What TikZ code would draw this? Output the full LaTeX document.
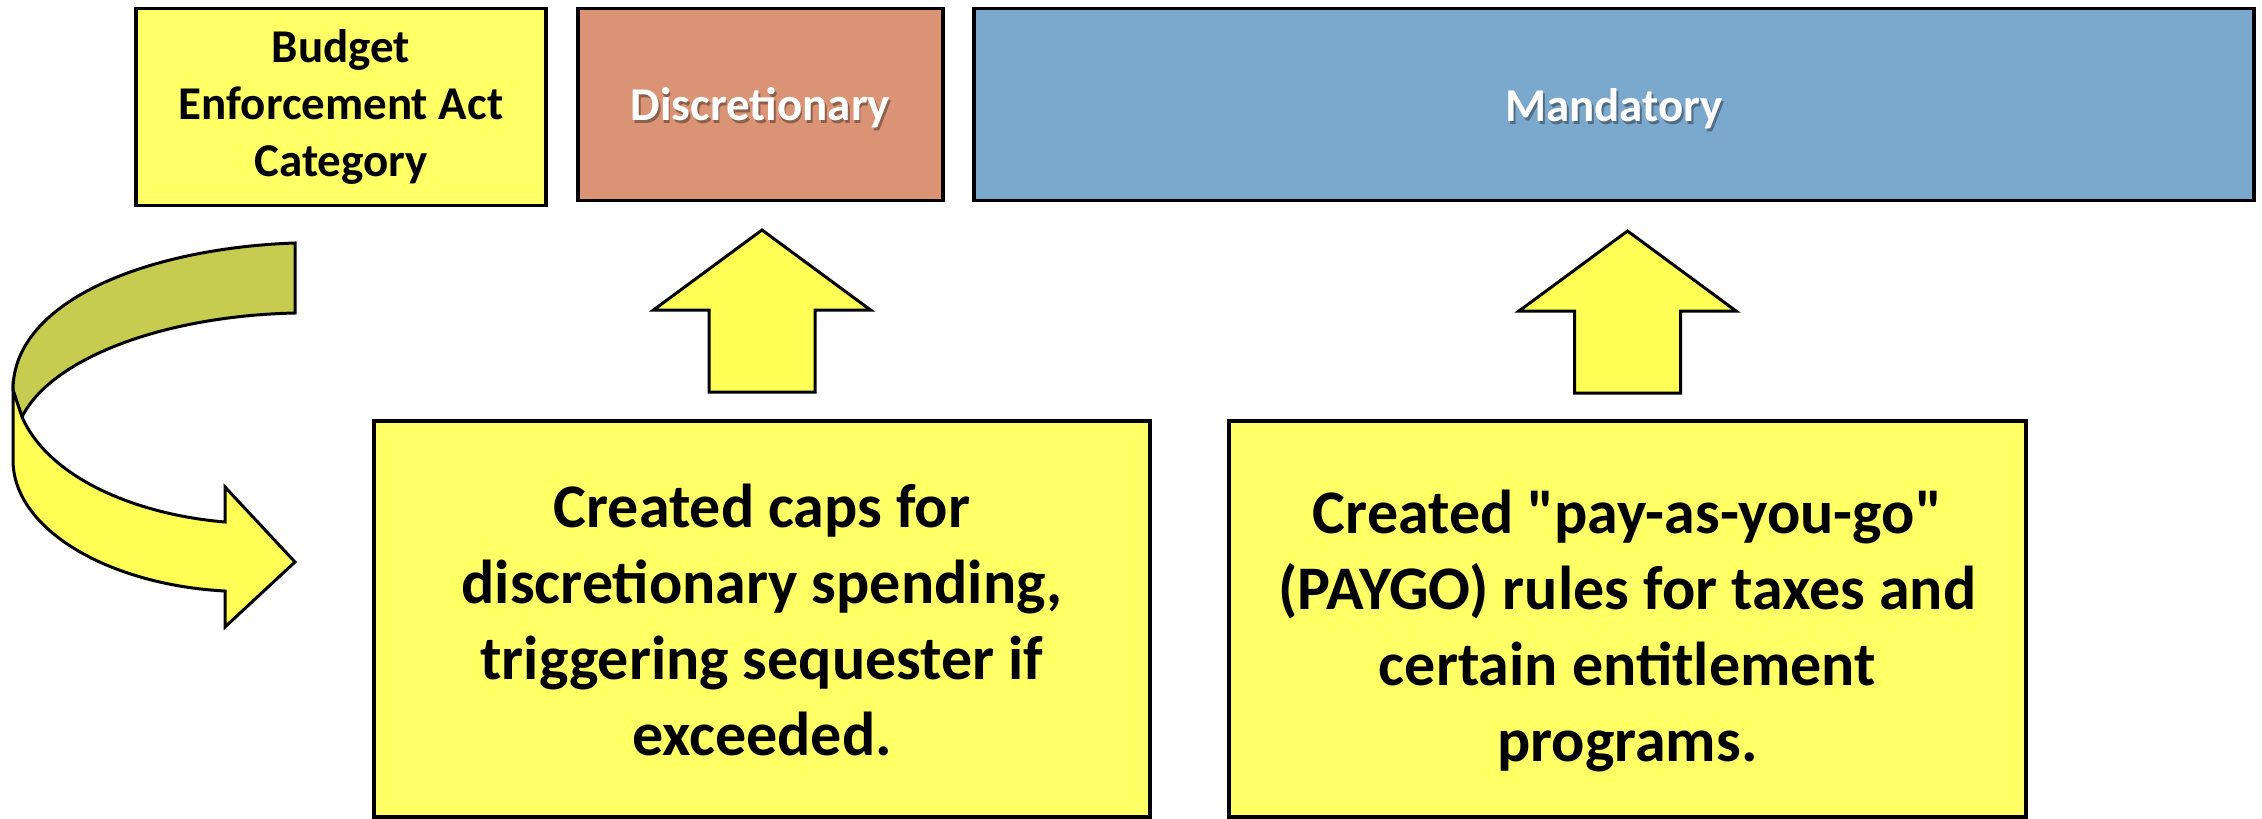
\documentclass[tikz,border=0pt]{standalone}
\usepackage{fontspec}
\setmainfont{Carlito}
\definecolor{yelbox}{RGB}{255,255,102}
\definecolor{arrowyellow}{RGB}{255,255,85}
\definecolor{backband}{RGB}{198,204,80}
\definecolor{discol}{RGB}{218,148,117}
\definecolor{mancol}{RGB}{123,168,205}
\begin{document}
\begin{tikzpicture}[x=1pt,y=-1pt,
  box/.style={draw=black, line width=3.5pt, inner sep=0pt, anchor=center},
  lbl/.style={font=\bfseries\fontsize{47}{57}\selectfont, align=center, inner sep=0pt},
  big/.style={font=\bfseries\fontsize{62}{76}\selectfont, align=center, inner sep=0pt},
  wlbl/.style={font=\bfseries\fontsize{47}{57}\selectfont, text=white, inner sep=0pt, anchor=base},
  shd/.style={font=\bfseries\fontsize{47}{57}\selectfont, text=black, opacity=0.35, inner sep=0pt, anchor=base},
  blk/.style={draw=black, line width=3pt, line join=miter, fill=arrowyellow},
  pics/uparrow/.style={code={\draw[blk] (-53,0) -- (-53,-82) -- (-108.5,-82) -- (0,-162) -- (108.5,-82) -- (53,-82) -- (53,0) -- cycle;}}
]
\useasboundingbox (0,0) rectangle (2262,819);

% top row
\node[box, fill=yelbox, minimum width=410pt, minimum height=197pt, lbl] (bea) at (341,107) {Budget\\Enforcement Act\\Category};
\node[box, fill=discol, minimum width=365pt, minimum height=192pt] (disc) at (760.5,104.5) {};
\node[box, fill=mancol, minimum width=1280pt, minimum height=192pt] (mand) at (1614,104.5) {};
\node[shd] (discs) at (762,123) {Discretionary};
\node[wlbl] (disct) at (760.5,120) {Discretionary};
\node[shd] (mands) at (1616,124) {Mandatory};
\node[wlbl] (mandt) at (1614,121) {Mandatory};

% lower boxes
\node[box, fill=yelbox, minimum width=776pt, minimum height=396pt] (lowl) at (762,619) {};
\node[box, fill=yelbox, minimum width=797pt, minimum height=396pt] (lowr) at (1627.5,619) {};
\node[big] (lowlt) at (762,620) {Created caps for\\discretionary spending,\\triggering sequester if\\exceeded.};
\node[big] (lowrt) at (1627.5,631) {Created \textquotedbl pay-as-you-go\textquotedbl\\(PAYGO) rules for taxes and\\certain entitlement\\programs.};

% up arrows
\coordinate (a1) at (762,392);
\coordinate (a2) at (1627.5,393);
\pic at (a1) {uparrow};
\pic at (a2) {uparrow};

% curved arrow: back band
\draw[line width=3pt, line join=miter, fill=backband]
  (295,243) .. controls (150,248) and (13,300) .. (13,390)
  -- (22,417) .. controls (50,360) and (160,316) .. (295,313) -- cycle;
% front band with head
\draw[line width=3pt, line join=miter, fill=arrowyellow]
  (13,390) -- (13,460) .. controls (13,530) and (110,585) .. (225,591)
  -- (225,627) -- (295,562) -- (225,487) -- (225,522)
  .. controls (140,515) and (50,480) .. (22,417) -- cycle;
\end{tikzpicture}
\end{document}
